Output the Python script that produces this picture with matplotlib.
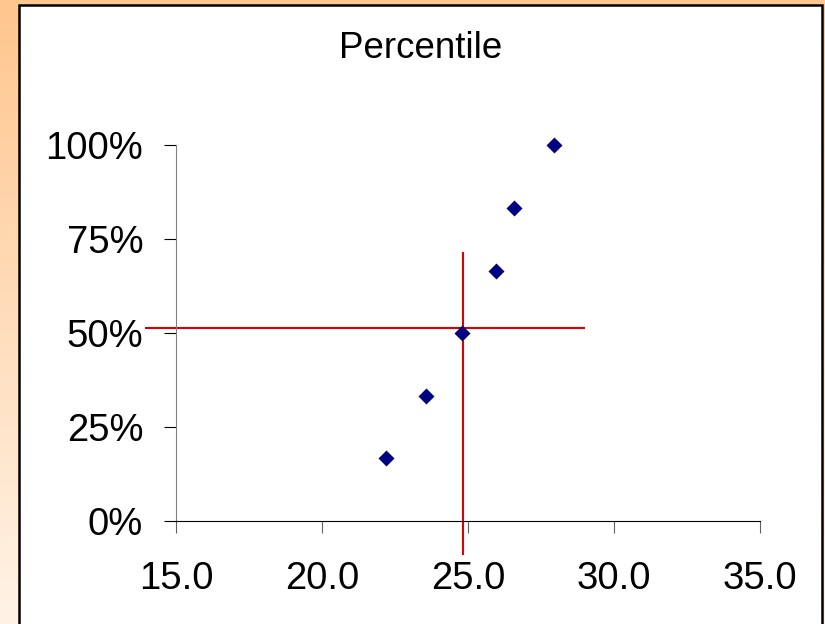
import numpy as np
import matplotlib.pyplot as plt
from matplotlib.patches import Rectangle
from matplotlib.ticker import FuncFormatter

# data
values = [22.19, 23.56, 24.79, 25.96, 26.58, 27.93]
percentile = [1/6, 2/6, 3/6, 4/6, 5/6, 1.0]
x_ticks = [15.0, 20.0, 25.0, 30.0, 35.0]
y_ticks = [0, 0.25, 0.5, 0.75, 1.0]

# red guide lines (median marker)
median_x = 24.84
median_y = 0.514
hline_x = [13.98, 28.97]
vline_y = [-0.089, 0.714]

plt.rcParams['font.family'] = ['Liberation Sans', 'DejaVu Sans']

fig = plt.figure(figsize=(8.25, 6.24), dpi=100)

# orange gradient background
bg = fig.add_axes([0, 0, 1, 1], zorder=0)
grad = np.linspace(0, 1, 256).reshape(-1, 1)
top = np.array([255, 198, 142]) / 255
bot = np.array([255, 243, 230]) / 255
img = top + (bot - top) * grad[:, :, None]
bg.imshow(img, aspect='auto', extent=[0, 1, 0, 1], origin='upper')
bg.set_xlim(0, 1)
bg.set_ylim(0, 1)
bg.axis('off')
bg.add_patch(Rectangle((19/825, -0.02), (822-19)/825, 1.02 - 5/624,
                       facecolor='white', edgecolor='black', lw=1.8))

ax = fig.add_axes([176/825, 103/624, 584/825, 375.7/624], zorder=1)
ax.patch.set_alpha(0)

ax.plot(values, percentile, 'D', color='#000080', ms=8, mec='none', zorder=3, clip_on=False)
ax.plot(hline_x, [median_y, median_y], color='#DD0000', lw=1.5, clip_on=False, zorder=2)
ax.plot([median_x, median_x], vline_y, color='#DD0000', lw=1.5, clip_on=False, zorder=2)

ax.set_xlim(15, 35)
ax.set_ylim(0, 1)
ax.set_xticks(x_ticks)
ax.set_yticks(y_ticks)
ax.xaxis.set_major_formatter(FuncFormatter(lambda v, p: f"{v:.1f}"))
ax.yaxis.set_major_formatter(FuncFormatter(lambda v, p: f"{v*100:.0f}%"))

for s in ['top', 'right']:
    ax.spines[s].set_visible(False)
ax.spines['left'].set_color('#808080')
ax.spines['bottom'].set_color('black')
ax.tick_params(axis='both', labelsize=27.5, length=8.6, direction='out')
ax.tick_params(axis='x', pad=20, color='#606060')
ax.tick_params(axis='y', pad=15, color='black')

fig.text(421/825, 1 - 48/624, "Percentile", ha='center', va='center', fontsize=26.5)

fig.savefig('out.png', dpi=100)
